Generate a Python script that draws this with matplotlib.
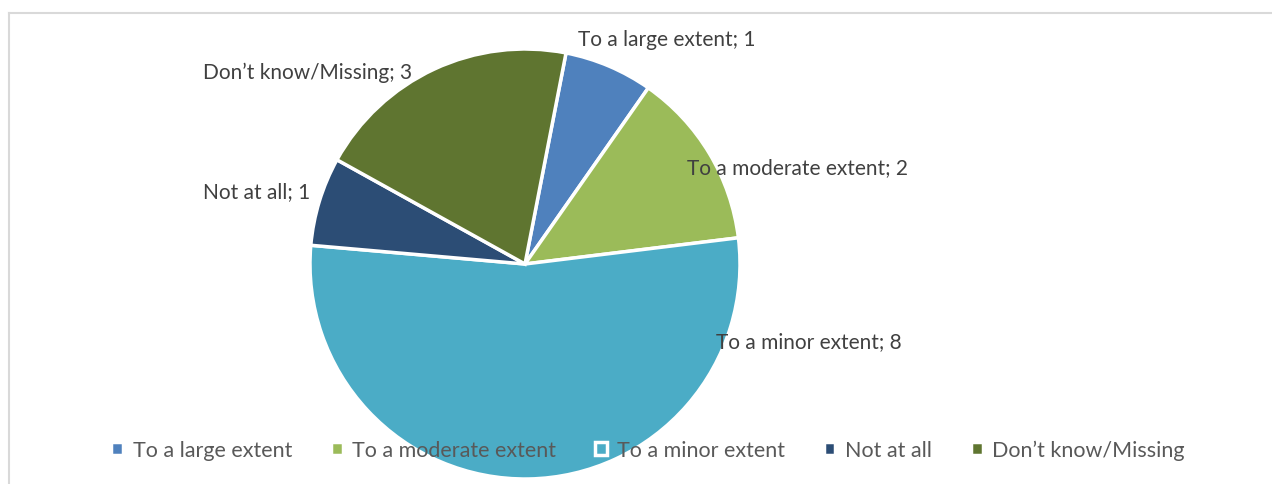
import matplotlib.pyplot as plt
from matplotlib.lines import Line2D

# Data
categories = ["To a large extent", "To a moderate extent", "To a minor extent",
              "Not at all", "Don\u2019t know/Missing"]
values = [1, 2, 8, 1, 3]
colors = ["#4F81BD", "#9BBB59", "#4BACC6", "#2C4D75", "#5F7530"]

W, H = 1272, 485
fig = plt.figure(figsize=(W / 100, H / 100), dpi=100)
plt.rcParams['font.family'] = ['Lato', 'DejaVu Sans']

# Chart frame (only top and left edges visible)
fig.add_artist(Line2D([9 / W, 9 / W], [0, 1 - 14 / H], color="#D9D9D9", lw=1.5))
fig.add_artist(Line2D([9 / W, 1], [1 - 14 / H, 1 - 14 / H], color="#D9D9D9", lw=1.5))

# Pie axes: center (525, 265) px, radius 215 px
cx, cy, r = 525, 265, 215
ax = fig.add_axes([(cx - r) / W, (H - cy - r) / H, 2 * r / W, 2 * r / H])
wedges, _ = ax.pie(values, colors=colors, startangle=79, counterclock=False,
                   wedgeprops=dict(edgecolor="white", linewidth=2.5))
ax.set_xlim(-1, 1)
ax.set_ylim(-1, 1)
ax.set_aspect("equal")
ax.axis("off")

# Data labels (centre pixel positions)
label_pos = [(667, 40), (797, 168), (809, 342), (257, 192), (308, 73)]
for cat, val, (px, py) in zip(categories, values, label_pos):
    fig.text(px / W, 1 - py / H, f"{cat}; {val}", ha="center", va="center",
             fontsize=15, color="#404040")

# Legend
leg = fig.legend(wedges, categories, loc="center", ncol=5,
                 bbox_to_anchor=(648 / W, 1 - 451 / H), frameon=False,
                 fontsize=15.5, handlelength=0.55, handleheight=0.55,
                 handletextpad=0.45, columnspacing=1.8, labelcolor="#595959")

fig.savefig("out.png", dpi=100)
